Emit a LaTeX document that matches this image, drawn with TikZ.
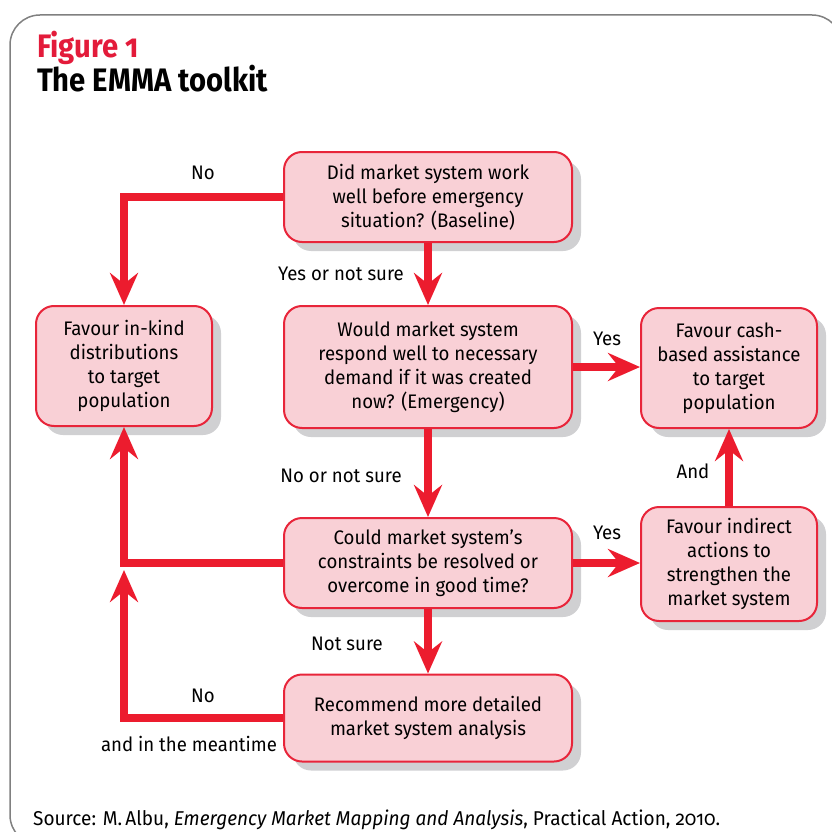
\documentclass[tikz,border=0pt]{standalone}
\usepackage{fontspec}
\setmainfont{Fira Sans}[Numbers=OldStyle]
\newfontfamily\titlefont{Fira Sans}[Numbers=OldStyle,FakeStretch=0.9]
\newfontfamily\bodyfont{Fira Sans}[Numbers=OldStyle,FakeStretch=0.95]
\usetikzlibrary{arrows.meta,shadows}
\definecolor{boxfill}{HTML}{F9D0D6}
\definecolor{boxline}{HTML}{E8253A}
\definecolor{arrred}{HTML}{EC1C2E}
\definecolor{shadowgray}{HTML}{D0D0D2}
\definecolor{framegray}{HTML}{808080}
\definecolor{titlered}{HTML}{E31B3A}
\begin{document}
\begin{tikzpicture}[x=1pt,y=-1pt,
  box/.style={draw=boxline, line width=2pt, fill=boxfill, rounded corners=18pt,
    align=center, font=\bodyfont\fontsize{19.6}{24}\selectfont, inner sep=0pt,
    drop shadow={shadow xshift=9pt, shadow yshift=-9pt, fill=shadowgray, opacity=1}},
  midbox/.style={box, minimum width=288pt},
  sidebox/.style={box, minimum width=176pt},
  arr/.style={draw=arrred, line width=8pt, -{Stealth[length=32pt,width=28pt,inset=11pt]}},
  lbl/.style={font=\bodyfont\fontsize{19.6}{24}\selectfont, inner sep=0pt}]
\useasboundingbox (0,0) rectangle (832,832);
\clip (0,0) rectangle (832,832);
\draw[framegray, line width=1.5pt, rounded corners=30pt] (10,15) rectangle (842,845);

\node[anchor=base west, inner sep=0pt, text=titlered] (fig) at (37,58) {\titlefont\bfseries\fontsize{32.5}{36}\selectfont Figure 1};
\node[anchor=base west, inner sep=0pt] (ttl) at (37,92) {\titlefont\bfseries\fontsize{32.5}{36}\selectfont The EMMA toolkit};

\node[midbox, minimum height=90pt] (q1) at (428,197) {Did market system work\\well before emergency\\situation? (Baseline)};
\node[midbox, minimum height=122pt] (q2) at (428,367) {Would market system\\respond well to necessary\\demand if it was created\\now? (Emergency)};
\node[midbox, minimum height=90pt] (q3) at (428,563) {Could market system’s\\constraints be resolved or\\overcome in good time?};
\node[midbox, minimum height=87pt] (q4) at (428,718) {Recommend more detailed\\market system analysis};
\node[sidebox, minimum height=120pt] (inkind) at (124,366) {Favour in-kind\\distributions\\to target\\population};
\node[sidebox, minimum height=120pt] (cash) at (729,368) {Favour cash-\\based assistance\\to target\\population};
\node[sidebox, minimum height=114pt] (indirect) at (729,564) {Favour indirect\\actions to\\strengthen the\\market system};

\coordinate (meantime) at (124,570);

\draw[arr] (q1.west) -| (inkind.north);
\draw[arr] (q1.south) -- (q2.north);
\draw[arr] (q2.east) -- (cash.west |- q2.east);
\draw[arr] (q2.south) -- (q3.north);
\draw[arr] (q3.west) -| (inkind.south);
\draw[arr] (q3.east) -- (indirect.west |- q3.east);
\draw[arr] (indirect.north) -- (cash.south);
\draw[arr] (q3.south) -- (q4.north);
\draw[arr] (q4.west) -| (meantime);

\node[lbl] (l1) at (203,173) {No};
\node[lbl] (l2) at (341,274) {Yes or not sure};
\node[lbl] (l3) at (607,339) {Yes};
\node[lbl] (l4) at (341,476) {No or not sure};
\node[lbl] (l5) at (607,533) {Yes};
\node[lbl] (l6) at (693,471) {And};
\node[lbl] (l7) at (347,644) {Not sure};
\node[lbl] (l8) at (203,696) {No};
\node[lbl] (l9) at (189,744) {and in the meantime};

\node[anchor=base west, inner sep=0pt, font=\bodyfont\fontsize{20}{22}\selectfont] (src) at (33,825) {Source: M.\,Albu, \textit{Emergency Market Mapping and Analysis}, Practical Action, 2010.};
\end{tikzpicture}
\end{document}
